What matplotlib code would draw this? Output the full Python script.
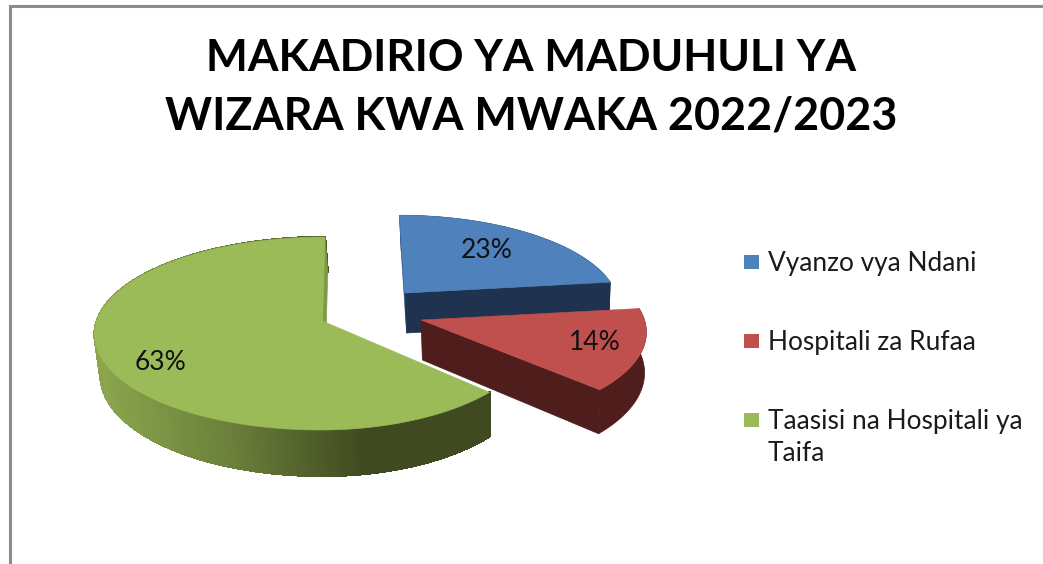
import numpy as np
import matplotlib
matplotlib.use("Agg")
import matplotlib.pyplot as plt
from matplotlib.patches import Polygon, Rectangle
from matplotlib.collections import PolyCollection
from matplotlib.colors import LinearSegmentedColormap, Normalize

# --- data ---
categories = ["Vyanzo vya Ndani", "Hospitali za Rufaa", "Taasisi na Hospitali ya\nTaifa"]
shares = [23, 14, 63]
title_lines = ["MAKADIRIO YA MADUHULI YA", "WIZARA KWA MWAKA 2022/2023"]

# --- style / layout ---
top_colors = ["#4F81BD", "#C0504D", "#9BBB59"]
wall_colors = ["#1F3350", "#4E1D1C", None]
strip_colors = ["#3A6296", None, "#7E9A46"]
green_cmap = LinearSegmentedColormap.from_list("g", ["#8AA54C", "#6A7F3A", "#404A20", "#3F4A20"])
apexes = [(405, 293), (421, 320), (322.5, 321)]
scales = [0.925, 0.98, 1.0]
right_scales = [1.0, 1.0, 0.925]
left_scale = 0.99
leans = [-5.5, 0.0, 2.5]
label_pos = [(487, 251), (595, 342), (161, 362)]
title_sizes = [31.9, 32.3]
title_y = [58, 116]
R, RY, K, DEPTH, VX, VSHIFT = 228.0, 94.9, 0.1295, 40.0, 520.0, 0.014
FONT = "Lato"

fig = plt.figure(figsize=(10.43, 5.64), dpi=100, facecolor="white")
ax = fig.add_axes([0, 0, 1, 1])
ax.set_xlim(0, 1043)
ax.set_ylim(564, 0)
ax.axis("off")


def top_point(phi, r, i):
    s = 1.0 / (1.0 - K * np.sin(phi) * r)
    a_x, a_y = apexes[i]
    c = np.cos(phi)
    width = np.where(c > 0, right_scales[i], left_scale)
    x = a_x + scales[i] * width * R * r * c * s + leans[i] * (-np.sin(phi)) * r
    y = a_y + scales[i] * RY * r * np.sin(phi) * s
    return x, y


def bottom_point(phi, r, i):
    x, y = top_point(phi, r, i)
    s = 1.0 / (1.0 - K * np.sin(phi) * r)
    return x + (VX - x) * VSHIFT, y + DEPTH * s


def quad(xa, ya, xb, yb):
    return np.column_stack([np.r_[xa, xb[::-1]], np.r_[ya, yb[::-1]]])


# border
ax.plot([10, 10, 1043], [564, 6, 6], color="#8C8C8C", lw=2.2, solid_joinstyle="miter")

# wedges derived from the values, starting at twelve o'clock, clockwise
fracs = np.array(shares, dtype=float) / sum(shares)
starts = -np.pi / 2 + 2 * np.pi * np.r_[0, np.cumsum(fracs)[:-1]]
ends = starts + 2 * np.pi * fracs

for i in range(3):
    a0, a1 = starts[i], ends[i]
    arc = np.linspace(a0, a1, 240)
    tx, ty = top_point(arc, 1.0, i)
    bx, by = bottom_point(arc, 1.0, i)
    z = 2 + i * 2
    apex_top = top_point(a0, 0.0, i)
    apex_bottom = bottom_point(a0, 0.0, i)

    # outer curved wall
    if i == 2:
        polys = [quad(tx[j:j + 2], ty[j:j + 2], bx[j:j + 2], by[j:j + 2]) for j in range(len(arc) - 1)]
        xmid = 0.5 * (tx[:-1] + tx[1:])
        cols = green_cmap(Normalize(100, 490)(xmid))
        ax.add_collection(PolyCollection(polys, facecolors=cols, edgecolors=cols, linewidths=1.0,
                                         antialiaseds=False, zorder=z))
    else:
        ax.add_patch(Polygon(quad(tx, ty, bx, by), closed=True, fc=wall_colors[i], ec=wall_colors[i], lw=0.5, zorder=z))

    # cut faces that can be seen from the viewpoint
    faces = {0: [(a0, strip_colors[0]), (a1, wall_colors[0])],
             1: [(a1, wall_colors[1])],
             2: [(a1, strip_colors[2])]}[i]
    for a, colour in faces:
        c = top_point(a, 1.0, i)
        d = bottom_point(a, 1.0, i)
        ax.add_patch(Polygon([apex_top, c, d, apex_bottom], closed=True, fc=colour, ec=colour, lw=0.5, zorder=z))

    # top face
    verts = np.column_stack([np.r_[apex_top[0], tx], np.r_[apex_top[1], ty]])
    ax.add_patch(Polygon(verts, closed=True, fc=top_colors[i], ec=top_colors[i], lw=0.4, zorder=z + 1))

    # percentage label
    ax.text(*label_pos[i], f"{shares[i]}%", fontsize=19, family=FONT, color="#111111",
            ha="center", va="center", zorder=10)

# title
for line, size, y in zip(title_lines, title_sizes, title_y):
    ax.text(531, y, line, fontsize=size, family=FONT, fontweight="bold", color="black", ha="center", va="center")

# legend
legend_y = [262, 341, 420]
for lab, y, col in zip(categories, legend_y, top_colors):
    ax.add_patch(Rectangle((744, y - 7), 15, 14, fc=col, ec="none", zorder=5))
    ax.text(768, y - 11, lab, fontsize=18.9, family=FONT, color="#1A1A1A", ha="left", va="top",
            linespacing=1.35, zorder=5)

fig.savefig("out.png", dpi=100)
